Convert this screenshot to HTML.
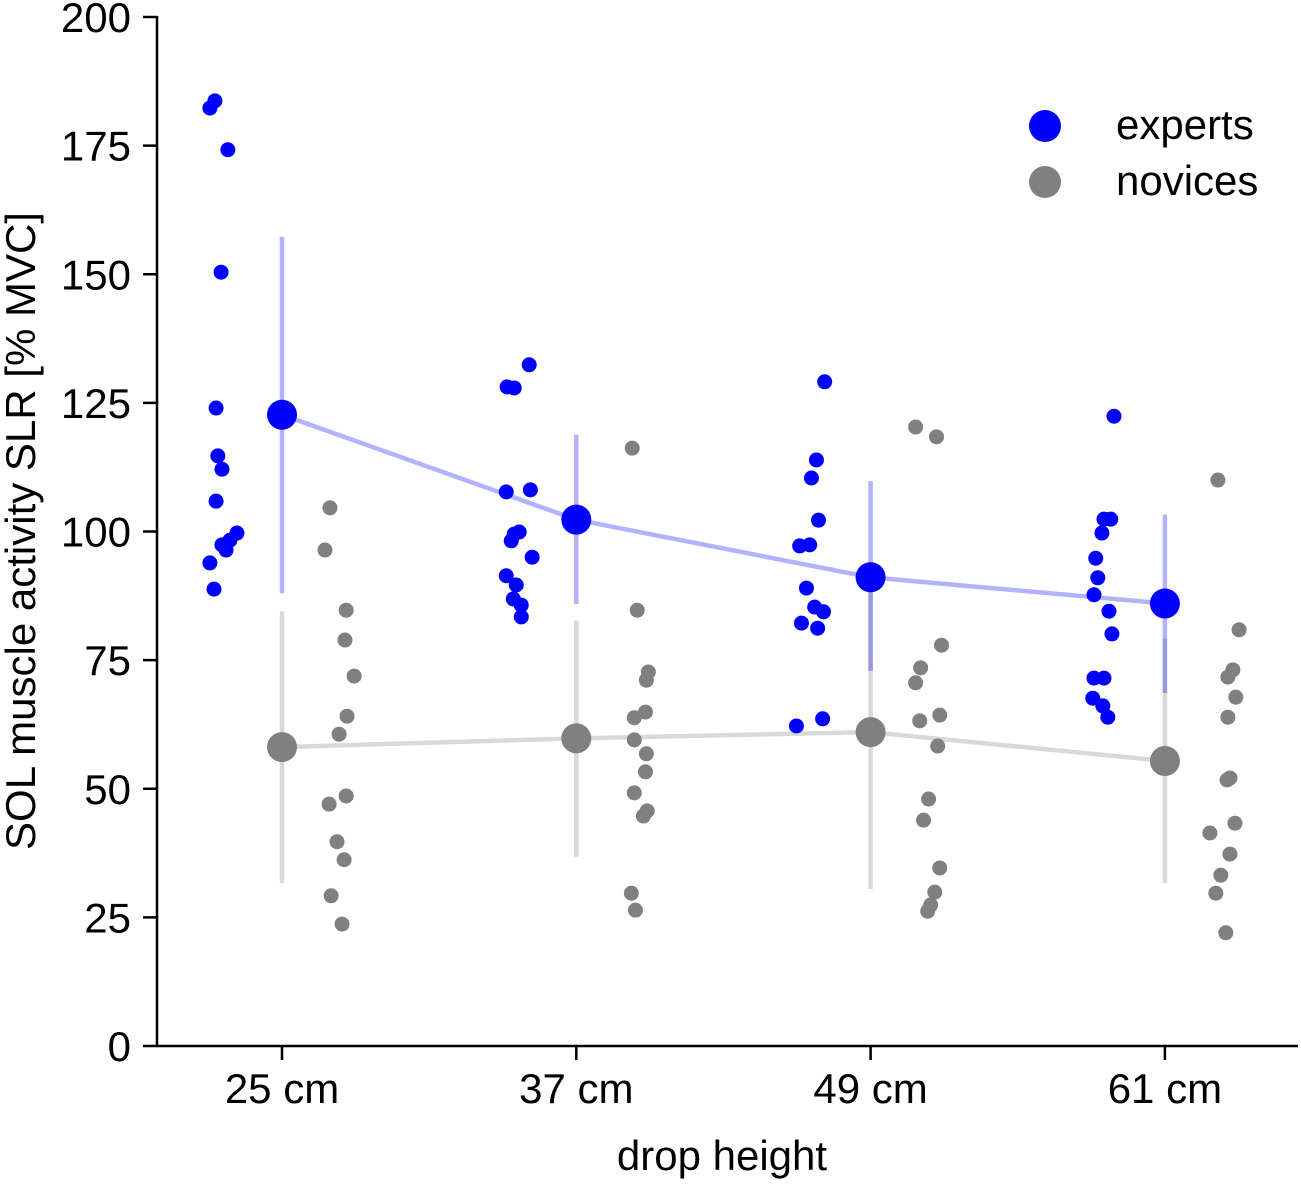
<!DOCTYPE html>
<html><head><meta charset="utf-8"><style>
body{margin:0;background:#fff}
text{font-family:"Liberation Sans",sans-serif;fill:#000}
</style></head><body>
<svg id="chart" width="1301" height="1183" viewBox="0 0 1301 1183" xmlns="http://www.w3.org/2000/svg"></svg>
<script>
const categories = ["25 cm","37 cm","49 cm","61 cm"];
const yTicks = [0,25,50,75,100,125,150,175,200];
const expertMeans = [122.7,102.3,91.1,86.0];
const expertLow = [88.0,85.9,72.9,68.6];
const expertHigh = [157.3,118.8,109.8,103.3];
const noviceMeans = [58.1,59.8,61.0,55.4];
const noviceLow = [31.7,36.8,30.5,31.7];
const noviceHigh = [84.5,82.7,91.0,79.2];
const expertVals = [
 [182.3,183.7,174.2,150.4,124,114.7,112.1,105.9,99.7,98.3,97.4,96.4,93.9,88.8],
 [132.4,128.1,127.9,108.1,107.7,99.9,99.5,98.2,95,91.4,89.6,86.9,85.7,83.4],
 [129.1,113.9,110.4,102.2,97.2,97.4,89,85.3,84.4,82.2,81.2,63.6,62.2],
 [122.4,102.4,102.4,99.7,94.8,91,87.7,84.5,80.1,71.5,71.5,67.6,66.1,63.9]];
const expertJitter = [
 [-0.245,-0.228,-0.184,-0.207,-0.224,-0.218,-0.204,-0.224,-0.153,-0.177,-0.204,-0.190,-0.245,-0.231],
 [-0.160,-0.235,-0.211,-0.156,-0.238,-0.194,-0.211,-0.221,-0.150,-0.238,-0.204,-0.214,-0.187,-0.187],
 [-0.156,-0.184,-0.201,-0.177,-0.241,-0.207,-0.218,-0.190,-0.160,-0.235,-0.180,-0.163,-0.252],
 [-0.173,-0.207,-0.184,-0.214,-0.235,-0.228,-0.241,-0.190,-0.180,-0.241,-0.207,-0.245,-0.211,-0.194]];
const noviceVals = [
 [104.6,96.4,84.7,78.9,71.9,64.1,60.6,48.6,47,39.7,36.2,29.2,23.7],
 [116.2,84.7,72.7,71.1,64.9,63.8,59.5,56.8,53.3,49.2,45.7,44.7,29.7,26.4],
 [120.3,118.4,77.9,73.5,70.6,64.3,63.2,58.3,48,43.9,34.6,29.9,27.4,26.2],
 [110,80.9,73.1,71.7,67.8,63.9,52.1,51.7,43.3,41.4,37.3,33.2,29.7,22]];
const noviceJitter = [
 [0.163,0.146,0.218,0.214,0.245,0.221,0.194,0.218,0.160,0.187,0.211,0.167,0.204],
 [0.190,0.207,0.245,0.238,0.235,0.197,0.197,0.238,0.235,0.197,0.241,0.228,0.187,0.201],
 [0.153,0.224,0.241,0.170,0.153,0.235,0.167,0.228,0.197,0.180,0.235,0.218,0.204,0.194],
 [0.180,0.252,0.231,0.214,0.241,0.214,0.221,0.211,0.238,0.153,0.221,0.190,0.173,0.207]];

const svg=document.getElementById('chart');
const NS='http://www.w3.org/2000/svg';
const X0=282, DX=294.3, Y0=1046, PY=5.145;
const xs=i=>X0+i*DX;
const ys=v=>Y0-v*PY;
function mk(tag,attrs,parent){const e=document.createElementNS(NS,tag);for(const k in attrs)e.setAttribute(k,attrs[k]);(parent||svg).appendChild(e);return e;}

const ax=mk('g',{});


mk('line',{x1:157,y1:16,x2:157,y2:1047,stroke:'#000','stroke-width':2.5},ax);
mk('line',{x1:156,y1:1046,x2:1298,y2:1046,stroke:'#000','stroke-width':2.5},ax);
yTicks.forEach(t=>{
  mk('line',{x1:143,x2:157,y1:ys(t),y2:ys(t),stroke:'#000','stroke-width':2.5},ax);
  const tx=mk('text',{x:131,y:ys(t)+15,'text-anchor':'end','font-size':42},ax);
  tx.textContent=t;
  
  
});
categories.forEach((c,i)=>{
  mk('line',{x1:xs(i),x2:xs(i),y1:1046,y2:1060,stroke:'#000','stroke-width':2.5},ax);
  const tx=mk('text',{x:xs(i),y:1103,'text-anchor':'middle','font-size':42},ax);
  tx.textContent=c;
  
  
});
const yt=mk('text',{x:0,y:0,transform:'translate(35,531) rotate(-90)','text-anchor':'middle','font-size':42});
yt.textContent='SOL muscle activity SLR [% MVC]';


const xt=mk('text',{x:722,y:1170,'text-anchor':'middle','font-size':42});
xt.textContent='drop height';



function errs(low,high,color,name){
  low.forEach((l,i)=>{
    const e=mk('line',{x1:xs(i),x2:xs(i),y1:ys(l),y2:ys(high[i]),stroke:color,'stroke-width':4.5});
    
    
  });
}
errs(noviceLow,noviceHigh,'rgba(128,128,128,0.3)','novice-error-bar');
errs(expertLow,expertHigh,'rgba(0,0,255,0.3)','expert-error-bar');
function line(m,color,name){
  const p=mk('polyline',{points:m.map((v,i)=>xs(i)+','+ys(v)).join(' '),fill:'none',stroke:color,'stroke-width':4.5});
  
  
}
line(noviceMeans,'rgba(128,128,128,0.3)','novice-mean-line');
line(expertMeans,'rgba(0,0,255,0.3)','expert-mean-line');
function dots(vals,jit,color,name){
  vals.forEach((arr,i)=>arr.forEach((v,j)=>{
    const c=mk('circle',{cx:xs(i+jit[i][j]),cy:ys(v),r:7.5,fill:color});
    
    
  }));
}
dots(expertVals,expertJitter,'#0000ff','expert-point');
dots(noviceVals,noviceJitter,'#808080','novice-point');
function means(m,color,name){
  m.forEach((v,i)=>{
    const c=mk('circle',{cx:xs(i),cy:ys(v),r:15,fill:color});
    
    
  });
}
means(expertMeans,'#0000ff','expert-mean');
means(noviceMeans,'#808080','novice-mean');

const lg=mk('g',{});


[['experts','#0000ff',126],['novices','#808080',182]].forEach(([t,c,y])=>{
  const g=mk('g',{},lg);
  
  
  mk('circle',{cx:1045,cy:y,r:16,fill:c},g);
  const tx=mk('text',{x:1116,y:y+13,'font-size':42},g);
  tx.textContent=t;
});
</script>
</body></html>
